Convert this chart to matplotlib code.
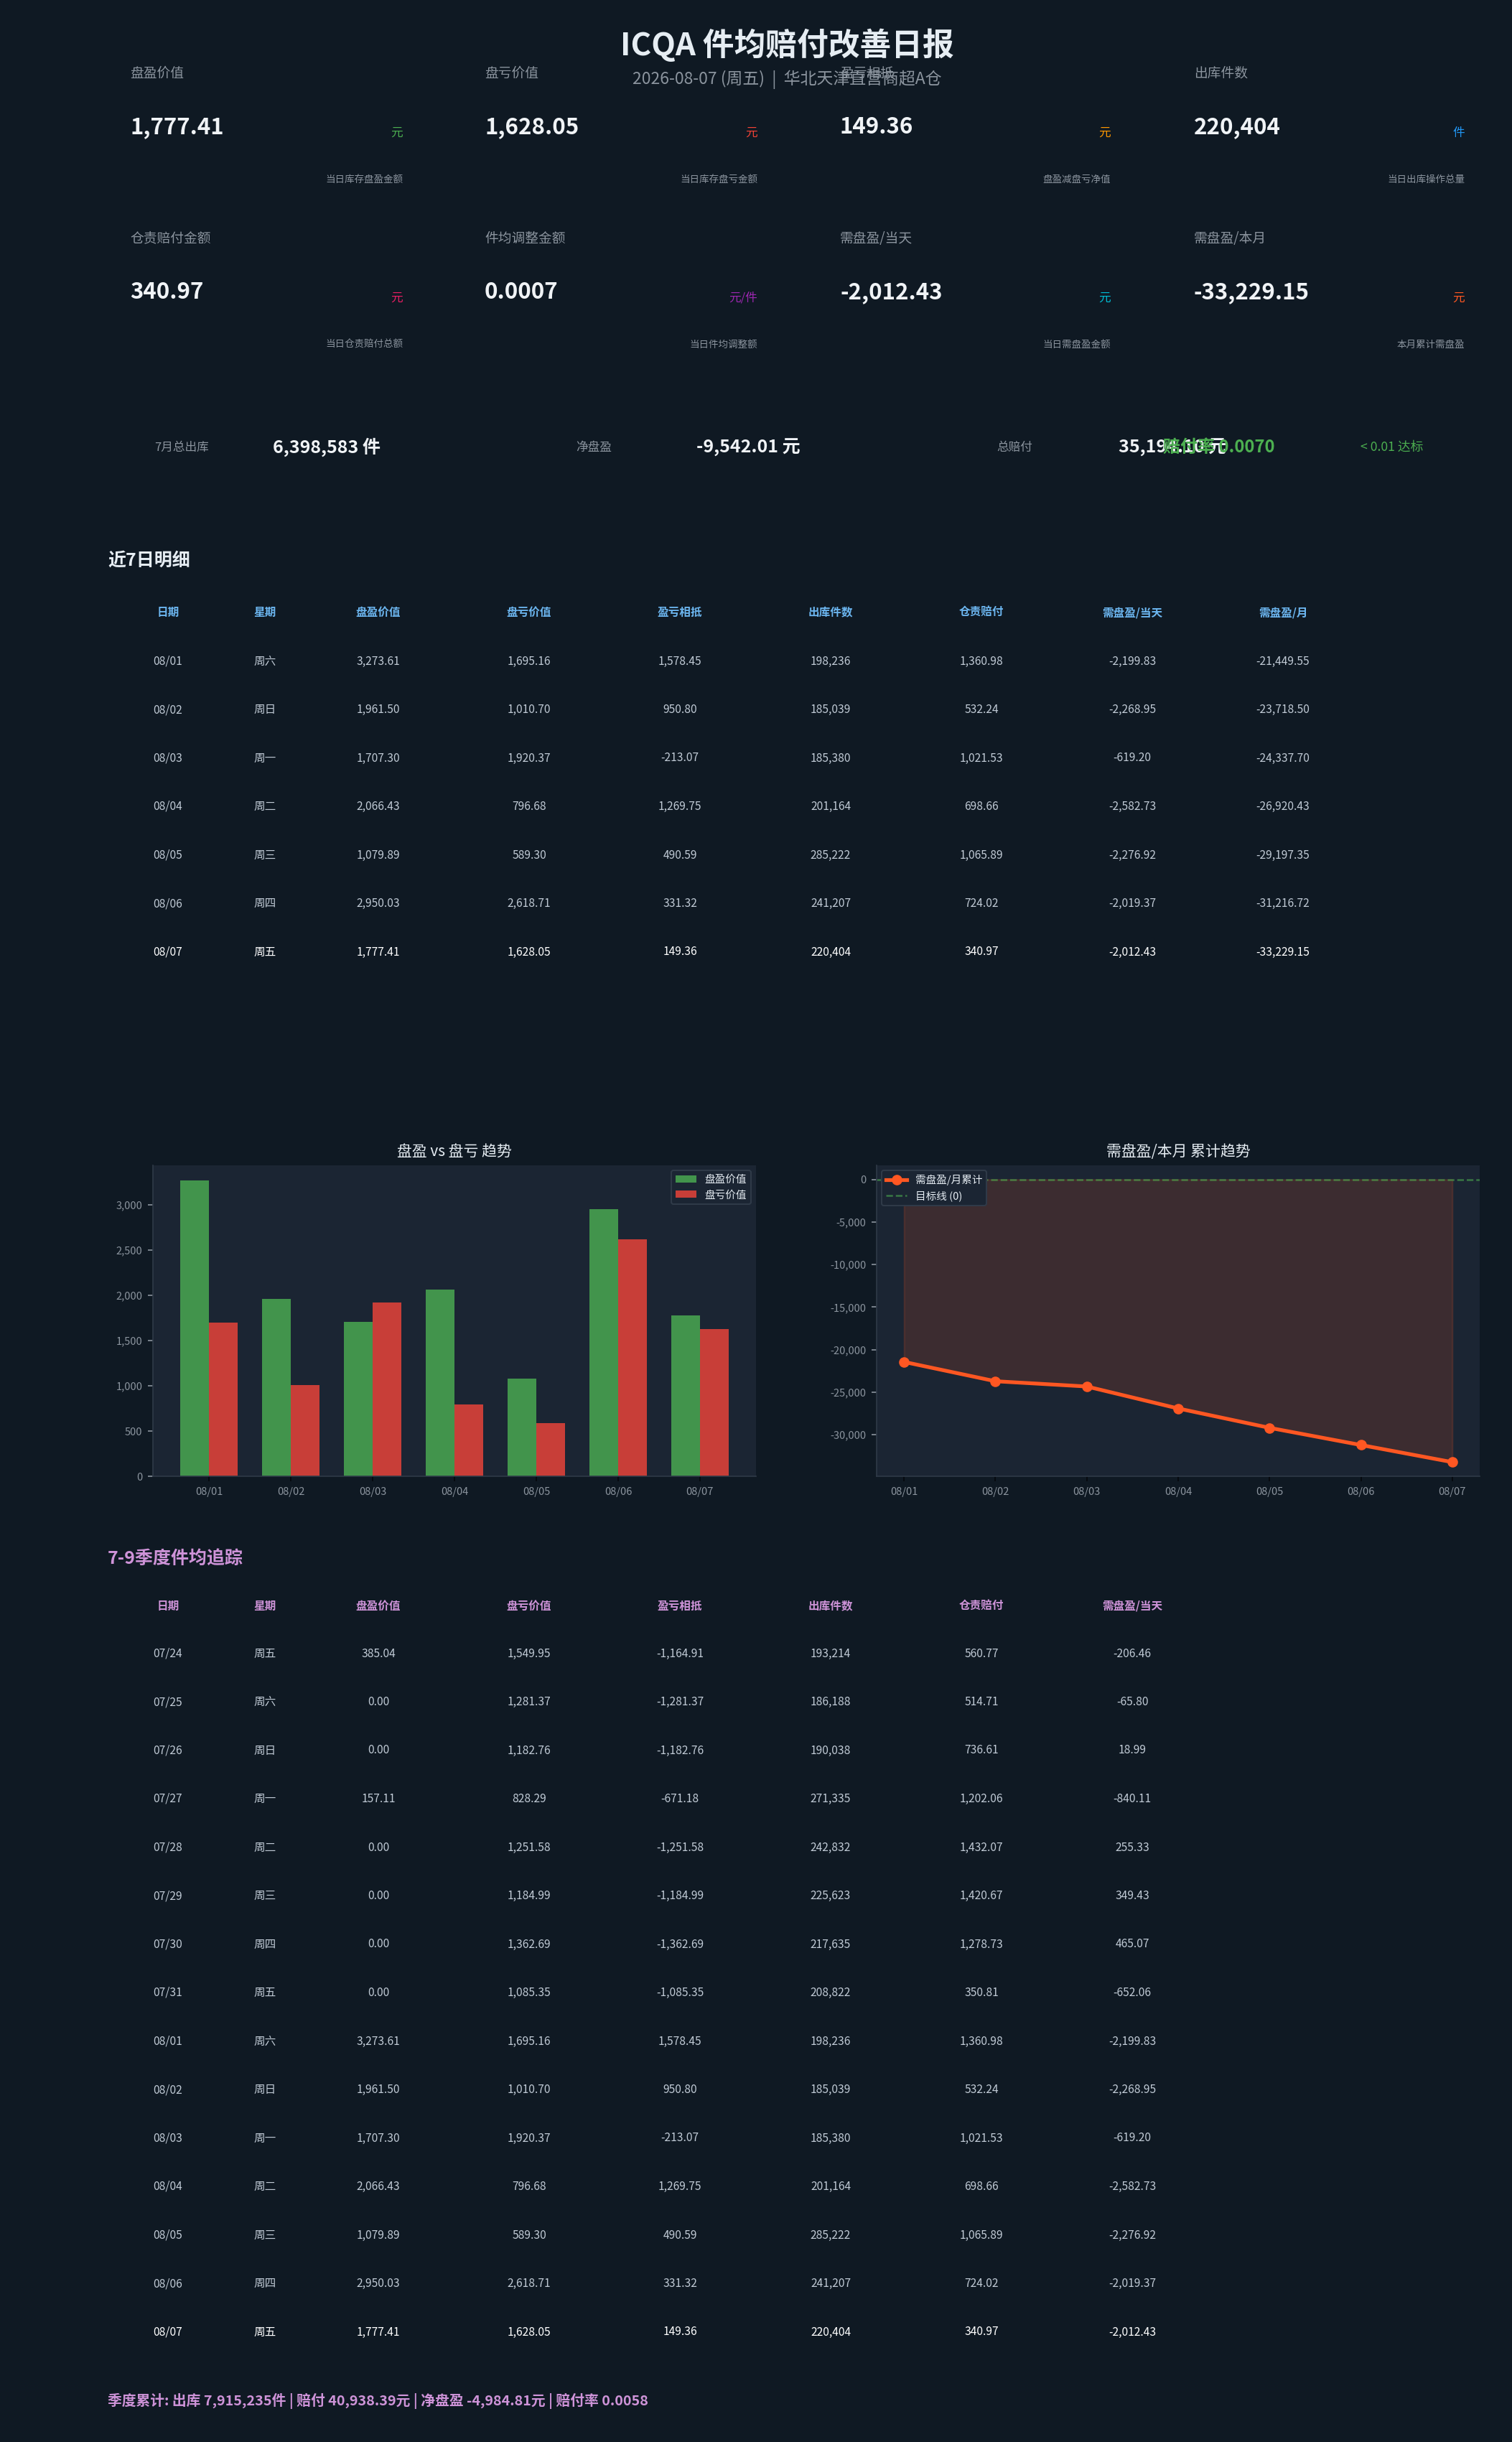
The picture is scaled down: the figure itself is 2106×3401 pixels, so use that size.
import matplotlib
matplotlib.use("Agg")
import matplotlib.pyplot as plt
from matplotlib.ticker import FuncFormatter
import numpy as np

plt.rcParams['font.family'] = ['Noto Sans CJK SC', 'DejaVu Sans']
plt.rcParams['axes.unicode_minus'] = False

# ---- data ----
title = "ICQA 件均赔付改善日报"
subtitle = "2026-08-07 (周五)  |  华北天津直营商超A仓"

kpi_labels = ["盘盈价值", "盘亏价值", "盈亏相抵", "出库件数",
              "仓责赔付金额", "件均调整金额", "需盘盈/当天", "需盘盈/本月"]
kpi_values = ["1,777.41", "1,628.05", "149.36", "220,404",
              "340.97", "0.0007", "-2,012.43", "-33,229.15"]
kpi_units = ["元", "元", "元", "件", "元", "元/件", "元", "元"]
kpi_unit_colors = ["#4caf50", "#f44336", "#ff9800", "#2196f3",
                   "#e91e63", "#9c27b0", "#00bcd4", "#ff5722"]
kpi_descs = ["当日库存盘盈金额", "当日库存盘亏金额", "盘盈减盘亏净值", "当日出库操作总量",
             "当日仓责赔付总额", "当日件均调整额", "当日需盘盈金额", "本月累计需盘盈"]

sum_labels = ["7月总出库", "净盘盈", "总赔付"]
sum_values = ["6,398,583 件", "-9,542.01 元", "35,194.10 元"]
rate_text = "赔付率 0.0070"
rate_note = "< 0.01 达标"

aug_dates = ["08/01", "08/02", "08/03", "08/04", "08/05", "08/06", "08/07"]
aug_week = ["周六", "周日", "周一", "周二", "周三", "周四", "周五"]
aug_gain = [3273.61, 1961.50, 1707.30, 2066.43, 1079.89, 2950.03, 1777.41]
aug_loss = [1695.16, 1010.70, 1920.37, 796.68, 589.30, 2618.71, 1628.05]
aug_net = [1578.45, 950.80, -213.07, 1269.75, 490.59, 331.32, 149.36]
aug_out = [198236, 185039, 185380, 201164, 285222, 241207, 220404]
aug_pay = [1360.98, 532.24, 1021.53, 698.66, 1065.89, 724.02, 340.97]
aug_need_day = [-2199.83, -2268.95, -619.20, -2582.73, -2276.92, -2019.37, -2012.43]
aug_need_month = [-21449.55, -23718.50, -24337.70, -26920.43, -29197.35, -31216.72, -33229.15]

jul_dates = ["07/24", "07/25", "07/26", "07/27", "07/28", "07/29", "07/30", "07/31"]
jul_week = ["周五", "周六", "周日", "周一", "周二", "周三", "周四", "周五"]
jul_gain = [385.04, 0.00, 0.00, 157.11, 0.00, 0.00, 0.00, 0.00]
jul_loss = [1549.95, 1281.37, 1182.76, 828.29, 1251.58, 1184.99, 1362.69, 1085.35]
jul_net = [-1164.91, -1281.37, -1182.76, -671.18, -1251.58, -1184.99, -1362.69, -1085.35]
jul_out = [193214, 186188, 190038, 271335, 242832, 225623, 217635, 208822]
jul_pay = [560.77, 514.71, 736.61, 1202.06, 1432.07, 1420.67, 1278.73, 350.81]
jul_need_day = [-206.46, -65.80, 18.99, -840.11, 255.33, 349.43, 465.07, -652.06]

headers7 = ["日期", "星期", "盘盈价值", "盘亏价值", "盈亏相抵", "出库件数", "仓责赔付", "需盘盈/当天", "需盘盈/月"]
headersq = headers7[:8]
quarter_footer = "季度累计: 出库 7,915,235件 | 赔付 40,938.39元 | 净盘盈 -4,984.81元 | 赔付率 0.0058"

# ---- style ----
BG = "#0f1923"
AX_BG = "#1b2533"
WHITE = "#e6edf3"
GRAY = "#8b949e"
CELL = "#c0cad5"
BLUE = "#6cb6f0"
VIOLET = "#ce93d8"

W, H = 2106, 3401
fig = plt.figure(figsize=(W / 150, H / 150), dpi=150, facecolor=BG)

# full-page axes in pixel coordinates for text layout
page = fig.add_axes([0, 0, 1, 1])
page.set_xlim(0, W)
page.set_ylim(H, 0)
page.axis("off")

page.text(1096, 63, title, ha="center", va="center", fontsize=21, fontweight="bold", color=WHITE)
page.text(1096, 111, subtitle, ha="center", va="center", fontsize=11, color=GRAY)

# KPI cards
col_left = [181, 675, 1170, 1663]
col_right = [561, 1055, 1547, 2040]
row_top = [102, 332]
for i in range(8):
    r, c = divmod(i, 4)
    y0 = row_top[r]
    page.text(col_left[c], y0, kpi_labels[i], ha="left", va="center", fontsize=9, color=GRAY)
    page.text(col_left[c], y0 + 75, kpi_values[i], ha="left", va="center", fontsize=15,
              fontweight="bold", color="#f0f3f6")
    page.text(col_right[c], y0 + 83, kpi_units[i], ha="right", va="center", fontsize=8,
              color=kpi_unit_colors[i])
    page.text(col_right[c], y0 + 148, kpi_descs[i], ha="right", va="center", fontsize=6.5, color=GRAY)

# summary strip
sum_lx = [215, 802, 1388]
sum_vx = [380, 970, 1558]
for lbl, val, lx, vx in zip(sum_labels, sum_values, sum_lx, sum_vx):
    page.text(lx, 623, lbl, ha="left", va="center", fontsize=8, color=GRAY)
    page.text(vx, 623, val, ha="left", va="center", fontsize=12, fontweight="bold", color="#f0f3f6")
page.text(1620, 623, rate_text, ha="left", va="center", fontsize=11.5, fontweight="bold", color="#4caf50")
page.text(1895, 623, rate_note, ha="left", va="center", fontsize=8.5, color="#4caf50")

col_x = [234, 369, 527, 737, 947, 1157, 1367, 1577, 1787]
ROW_H = 67.5

def money(v):
    return f"{v:,.2f}"

# 7-day table
page.text(150, 781, "近7日明细", ha="left", va="center", fontsize=12, fontweight="bold", color=WHITE)
for x, h in zip(col_x, headers7):
    page.text(x, 853, h, ha="center", va="center", fontsize=7.5, fontweight="bold", color=BLUE)
n7 = len(aug_dates)
for i in range(n7):
    y = 921 + i * ROW_H
    cells = [aug_dates[i], aug_week[i], money(aug_gain[i]), money(aug_loss[i]), money(aug_net[i]),
             f"{aug_out[i]:,}", money(aug_pay[i]), money(aug_need_day[i]), money(aug_need_month[i])]
    color = "#ffffff" if i == n7 - 1 else CELL
    for x, t in zip(col_x, cells):
        page.text(x, y, t, ha="center", va="center", fontsize=7.5, color=color)

# quarter table
q_dates = jul_dates + aug_dates
q_week = jul_week + aug_week
q_gain = jul_gain + aug_gain
q_loss = jul_loss + aug_loss
q_net = jul_net + aug_net
q_out = jul_out + aug_out
q_pay = jul_pay + aug_pay
q_need = jul_need_day + aug_need_day

page.text(150, 2171, "7-9季度件均追踪", ha="left", va="center", fontsize=12, fontweight="bold", color=VIOLET)
for x, h in zip(col_x, headersq):
    page.text(x, 2237, h, ha="center", va="center", fontsize=7.5, fontweight="bold", color=VIOLET)
nq = len(q_dates)
for i in range(nq):
    y = 2303 + i * ROW_H
    cells = [q_dates[i], q_week[i], money(q_gain[i]), money(q_loss[i]), money(q_net[i]),
             f"{q_out[i]:,}", money(q_pay[i]), money(q_need[i])]
    color = "#ffffff" if i == nq - 1 else CELL
    for x, t in zip(col_x, cells):
        page.text(x, y, t, ha="center", va="center", fontsize=7.5, color=color)
page.text(150, 3344, quarter_footer, ha="left", va="center", fontsize=9.5, fontweight="bold", color=VIOLET)

# ---- charts ----
comma = FuncFormatter(lambda v, p: f"{v:,.0f}")

def style_axes(ax):
    ax.set_facecolor(AX_BG)
    for s in ["top", "right"]:
        ax.spines[s].set_visible(False)
    for s in ["left", "bottom"]:
        ax.spines[s].set_color("#2f3a48")
    ax.tick_params(axis="both", colors=GRAY, labelsize=7)
    ax.tick_params(axis="x", color="#05080c")
    ax.yaxis.set_major_formatter(comma)

ax1 = fig.add_axes([213 / W, 1 - 2056 / H, 840 / W, 433 / H])
style_axes(ax1)
x = np.arange(len(aug_dates))
bw = 0.35
ax1.bar(x - bw / 2, aug_gain, bw, color="#42944c", label="盘盈价值")
ax1.bar(x + bw / 2, aug_loss, bw, color="#c83e38", label="盘亏价值")
ax1.set_xticks(x)
ax1.set_xticklabels(aug_dates)
ax1.set_title("盘盈 vs 盘亏 趋势", color=WHITE, fontsize=10)
leg = ax1.legend(loc="upper right", fontsize=7, facecolor=AX_BG, edgecolor="#2f3a48",
                 labelcolor=WHITE, framealpha=1)

ax2 = fig.add_axes([1221 / W, 1 - 2056 / H, 840 / W, 433 / H])
style_axes(ax2)
ax2.fill_between(x, aug_need_month, 0, color="#ff5722", alpha=0.15)
ax2.plot(x, aug_need_month, color="#ff5722", lw=2.5, marker="o", markersize=6, label="需盘盈/月累计")
ax2.axhline(0, color="#4caf50", ls="--", lw=1.2, alpha=0.6, label="目标线 (0)")
ax2.set_xticks(x)
ax2.set_xticklabels(aug_dates)
ax2.set_title("需盘盈/本月 累计趋势", color=WHITE, fontsize=10)
ax2.legend(loc="upper left", fontsize=7, facecolor=AX_BG, edgecolor="#2f3a48",
           labelcolor=WHITE, framealpha=1)

fig.savefig("out.png", dpi=150, facecolor=BG)
